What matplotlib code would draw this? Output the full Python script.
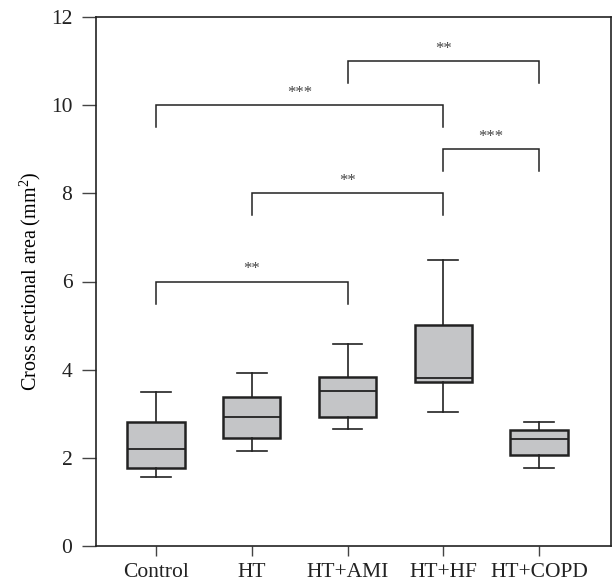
import matplotlib
matplotlib.use("Agg")
import matplotlib.pyplot as plt

groups = ["Control", "HT", "HT+AMI", "HT+HF", "HT+COPD"]
whis_low = [1.56, 2.16, 2.65, 3.05, 1.76]
q1 = [1.78, 2.44, 2.92, 3.71, 2.06]
med = [2.21, 2.92, 3.51, 3.82, 2.42]
q3 = [2.82, 3.39, 3.83, 5.01, 2.63]
whis_high = [3.50, 3.92, 4.58, 6.49, 2.82]

# brackets: (group index a, group index b, bar height, label)
brackets = [
    (0, 2, 6.0, "**"),
    (1, 3, 8.0, "**"),
    (3, 4, 9.0, "***"),
    (0, 3, 10.0, "***"),
    (2, 4, 11.0, "**"),
]

plt.rcParams['font.family'] = ['Liberation Serif', 'DejaVu Serif']
plt.rcParams['mathtext.fontset'] = 'custom'
plt.rcParams['mathtext.rm'] = 'Liberation Serif'
plt.rcParams['mathtext.it'] = 'Liberation Serif:italic'
plt.rcParams['mathtext.bf'] = 'Liberation Serif:bold'

fig = plt.figure(figsize=(6.15, 5.82), dpi=100)
ax = fig.add_axes([96/615, 36/582, 515/615, 529/582])

stats = []
for i, g in enumerate(groups):
    stats.append(dict(label=g, whislo=whis_low[i], q1=q1[i], med=med[i],
                      q3=q3[i], whishi=whis_high[i], fliers=[]))
pos = list(range(1, len(groups) + 1))
ax.bxp(stats, positions=pos, widths=0.6, patch_artist=True, showfliers=False,
       boxprops=dict(facecolor="#c4c5c7", edgecolor="#222222", linewidth=1.8),
       medianprops=dict(color="#222222", linewidth=1.3),
       whiskerprops=dict(color="#222222", linewidth=1.2),
       capprops=dict(color="#222222", linewidth=1.2), capwidths=0.31)

for a, b, h, lab in brackets:
    xa, xb = pos[a], pos[b]
    ax.plot([xa, xa, xb, xb], [h - 0.5, h, h, h - 0.5], color="#222222", lw=1.1,
            solid_joinstyle="miter")
    ax.text((xa + xb) / 2, h + 0.1, lab, ha="center", va="bottom",
            fontsize=12, color="#444444")

ax.set_xlim(0.375, 5.75)
ax.set_ylim(0, 12)
ax.set_yticks([0, 2, 4, 6, 8, 10, 12])
ax.set_xticks(pos)
ax.set_xticklabels(groups)
ax.tick_params(axis="both", direction="out", width=1, labelsize=15.5,
               color="#444444", labelcolor="#222222")
ax.tick_params(axis="y", length=10, pad=7)
ax.tick_params(axis="x", length=7, pad=5)
for s in ax.spines.values():
    s.set_linewidth(1.2)
    s.set_color("#222222")
ax.set_ylabel(r"Cross sectional area (mm$\mathregular{^2}$)", fontsize=14.5,
              labelpad=6)

fig.savefig("out.png", dpi=100)
